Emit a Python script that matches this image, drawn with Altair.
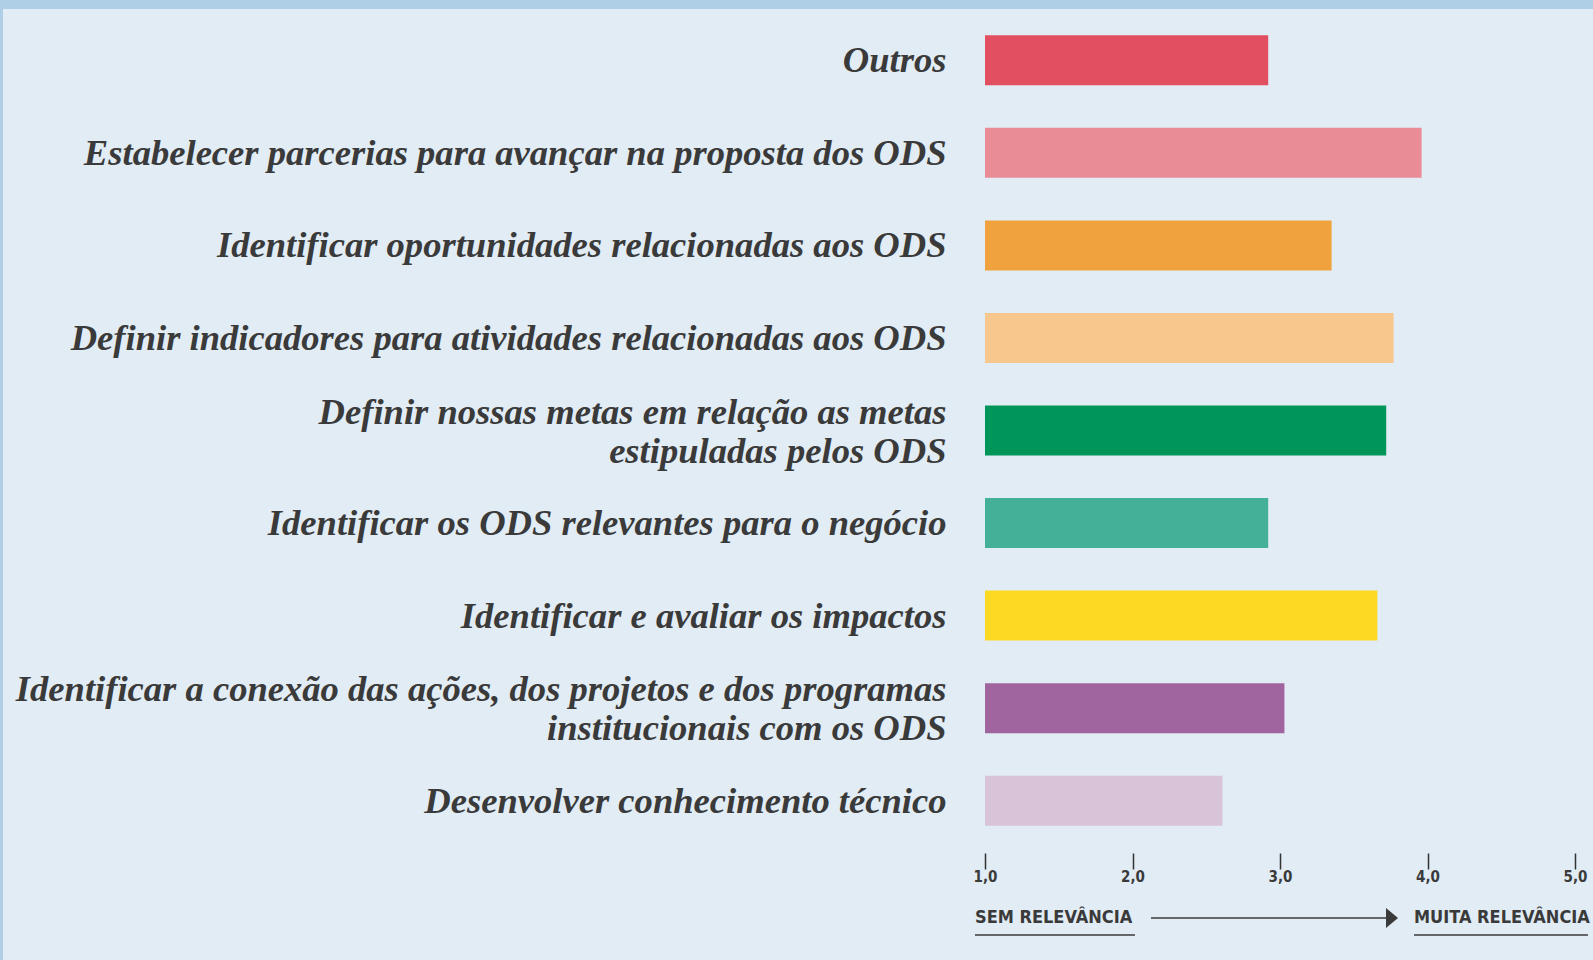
import altair as alt
import pandas as pd

categorias = [
    "Outros",
    "Estabelecer parcerias para avançar na proposta dos ODS",
    "Identificar oportunidades relacionadas aos ODS",
    "Definir indicadores para atividades relacionadas aos ODS",
    "Definir nossas metas em relação as metas|estipuladas pelos ODS",
    "Identificar os ODS relevantes para o negócio",
    "Identificar e avaliar os impactos",
    "Identificar a conexão das ações, dos projetos e dos programas|institucionais com os ODS",
    "Desenvolver conhecimento técnico",
]
valores = [2.92, 3.96, 3.35, 3.77, 3.72, 2.92, 3.66, 3.03, 2.61]
cores = ["#E24F60", "#EA8C96", "#F0A23E", "#F8C78D", "#00965A",
         "#43B097", "#FDD923", "#A0649E", "#D9C3D9"]
ticks_x = [1, 2, 3, 4, 5]
escala_min = 1.0

df = pd.DataFrame({"categoria": categorias, "valor": valores, "cor": cores})
df["base"] = escala_min

W, H = 590, 833
PL, PT = 985, 14

cond_font = "Liberation Sans Narrow, DejaVu Sans Condensed, sans-serif"

bars = alt.Chart(df).mark_bar(cornerRadius=0).encode(
    y=alt.Y("categoria:N", sort=categorias,
            scale=alt.Scale(paddingInner=0.46, paddingOuter=0.23),
            axis=alt.Axis(title=None, domain=False, ticks=False,
                          labelFont="Liberation Serif", labelFontSize=36.6,
                          labelFontStyle="italic", labelFontWeight="bold",
                          labelColor="#3a3a3a",
                          labelPadding=39, labelLimit=1200,
                          labelExpr="split(datum.value, '|')",
                          labelLineHeight=39,
                          labelOffset={"condition": {"test": "indexof(datum.value, '|') >= 0",
                                                     "value": -18},
                                       "value": 1})),
    x=alt.X("valor:Q", scale=alt.Scale(domain=[1, 5], zero=False, nice=False),
            axis=alt.Axis(title=None, values=ticks_x, domain=False, grid=False,
                          tickSize=16, offset=6, tickColor="#333333", tickWidth=1.5,
                          labelExpr="replace(format(datum.value, '.1f'), '.', ',')",
                          labelFont=cond_font, labelFontSize=15, labelFontWeight="bold",
                          labelColor="#3a3a3a", labelPadding=0, labelBaseline="top",
                          labelFlush=False)),
    x2="base:Q",
    color=alt.Color("cor:N", scale=None),
)

one = pd.DataFrame({"a": [0]})

border_top = alt.Chart(one).mark_rect(color="#AFCFE6").encode(
    x=alt.value(-PL), x2=alt.value(1593 - PL), y=alt.value(-PT), y2=alt.value(-PT + 9))
border_left = alt.Chart(one).mark_rect(color="#AFCFE6").encode(
    x=alt.value(-PL), x2=alt.value(-PL + 3), y=alt.value(-PT), y2=alt.value(960 - PT))

txt_sem = alt.Chart(pd.DataFrame({"t": ["SEM RELEVÂNCIA"]})).mark_text(
    align="left", baseline="middle", font=cond_font, fontSize=18, fontWeight="bold",
    color="#3a3a3a").encode(text="t:N", x=alt.value(-10), y=alt.value(904))
txt_muita = alt.Chart(pd.DataFrame({"t": ["MUITA RELEVÂNCIA"]})).mark_text(
    align="left", baseline="middle", font=cond_font, fontSize=18, fontWeight="bold",
    color="#3a3a3a").encode(text="t:N", x=alt.value(429), y=alt.value(904))

ul1 = alt.Chart(one).mark_rule(color="#3a3a3a", strokeWidth=1.5).encode(
    x=alt.value(-10), x2=alt.value(150), y=alt.value(921))
ul2 = alt.Chart(one).mark_rule(color="#3a3a3a", strokeWidth=1.5).encode(
    x=alt.value(429), x2=alt.value(603), y=alt.value(921))
arrow_line = alt.Chart(one).mark_rule(color="#3a3a3a", strokeWidth=1.5).encode(
    x=alt.value(166), x2=alt.value(402), y=alt.value(904))
arrow_head = alt.Chart(one).mark_point(
    shape="M-0.6,-1 L0.6,0 L-0.6,1 Z", filled=True, color="#3a3a3a", opacity=1,
    size=400).encode(x=alt.value(407), y=alt.value(904))

chart = alt.layer(
    border_top, border_left, bars, txt_sem, txt_muita, ul1, ul2, arrow_line, arrow_head
).properties(
    width=W, height=H,
    autosize=alt.AutoSizeParams(type="none"),
    padding={"left": PL, "top": PT, "right": 1593 - PL - W, "bottom": 960 - PT - H},
    background="#E1ECF5",
).configure_view(stroke=None)

chart.save("out.html", embed_options={"renderer": "svg", "actions": False})
